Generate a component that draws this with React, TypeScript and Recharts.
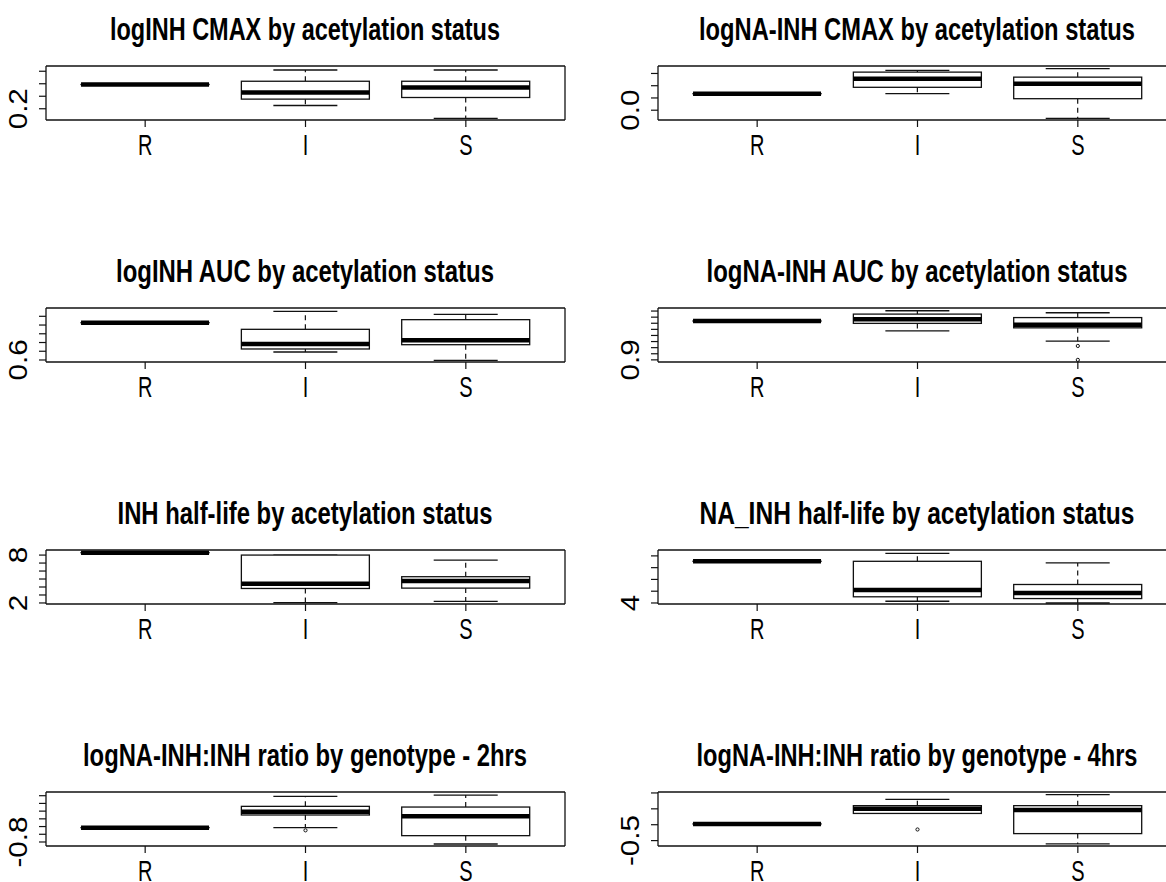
import React from "react";
import { ComposedChart, Bar, Scatter, XAxis, YAxis } from "recharts";

const groups = ["R", "I", "S"];

// five-number summaries per group (R, I, S): [min, q1, median, q3, max]
const inhCmax = [
  [0.394, 0.394, 0.394, 0.394, 0.394],
  [0.226, 0.277, 0.33, 0.42, 0.51],
  [0.123, 0.29, 0.37, 0.42, 0.51],
];
const naInhCmax = [
  [0.135, 0.135, 0.135, 0.135, 0.135],
  [0.135, 0.187, 0.256, 0.311, 0.325],
  [-0.066, 0.094, 0.217, 0.27, 0.339],
];
const inhAuc = [
  [0.6854, 0.6854, 0.6854, 0.6854, 0.6854],
  [0.6183, 0.6252, 0.6366, 0.6702, 0.7113],
  [0.5992, 0.635, 0.645, 0.6923, 0.7045],
];
const naInhAuc = [
  [0.9637, 0.9637, 0.9637, 0.9637, 0.9637],
  [0.9475, 0.9598, 0.9665, 0.975, 0.9805],
  [0.9307, 0.9525, 0.9576, 0.9693, 0.9772],
];
const inhHalfLife = [
  [8.3, 8.3, 8.3, 8.3, 8.3],
  [2.04, 3.815, 4.41, 8.0, 8.0],
  [2.21, 3.86, 4.75, 5.29, 7.367],
];
const naInhHalfLife = [
  [11.08, 11.08, 11.08, 11.08, 11.08],
  [4.29, 5.05, 6.21, 11.08, 12.42],
  [4.0, 4.75, 5.69, 7.14, 10.8],
];
const ratio2h = [
  [-0.614, -0.614, -0.614, -0.614, -0.614],
  [-0.614, -0.45, -0.407, -0.338, -0.208],
  [-0.826, -0.718, -0.467, -0.347, -0.192],
];
const ratio4h = [
  [-0.395, -0.395, -0.395, -0.395, -0.395],
  [-0.329, -0.329, -0.299, -0.28, -0.24],
  [-0.521, -0.456, -0.308, -0.28, -0.211],
];

// outlying points per group
const noOutliers = [[], [], []];
const naInhAucOut = [[], [], [0.9228, 0.9]];
const ratio2hOut = [[], [-0.649], []];
const ratio4hOut = [[], [-0.43], []];

// y axes: domain, tick values, labelled ticks
const domains = [
  [0.11, 0.542], [-0.08, 0.361],
  [0.5954, 0.719], [0.8965, 0.985],
  [1.87, 8.636], [3.826, 13.0],
  [-0.852, -0.152], [-0.534, -0.194],
];
const tickSets = [
  [0.2, 0.3, 0.4, 0.5], [0, 0.1, 0.2, 0.3],
  [0.6, 0.62, 0.64, 0.66, 0.68, 0.7], [0.9, 0.91, 0.92, 0.93, 0.94, 0.95, 0.96, 0.97, 0.98],
  [2, 3, 4, 5, 6, 7, 8], [4, 6, 8, 10, 12],
  [-0.8, -0.7, -0.6, -0.5, -0.4, -0.3, -0.2], [-0.5, -0.4, -0.3, -0.2],
];
const labelSets = [
  [[0.2, "0.2"]], [[0, "0.0"]],
  [[0.6, "0.6"]], [[0.9, "0.9"]],
  [[2, "2"], [8, "8"]], [[4, "4"]],
  [[-0.8, "-0.8"]], [[-0.5, "-0.5"]],
];

const titles = [
  "logINH CMAX by acetylation status",
  "logNA-INH CMAX by acetylation status",
  "logINH AUC by acetylation status",
  "logNA-INH AUC by acetylation status",
  "INH half-life by acetylation status",
  "NA_INH half-life by acetylation status",
  "logNA-INH:INH ratio by genotype - 2hrs",
  "logNA-INH:INH ratio by genotype - 4hrs",
];
const titleWidths = [390, 436, 378, 421, 375, 435, 444, 441];

const panelStats = [inhCmax, naInhCmax, inhAuc, naInhAuc, inhHalfLife, naInhHalfLife, ratio2h, ratio4h];
const panelOutliers = [noOutliers, noOutliers, noOutliers, naInhAucOut, noOutliers, noOutliers, ratio2hOut, ratio4hOut];

const FONT = '"Liberation Sans", Arial, sans-serif';
const INK = "#111";
const PAD = { left: 19, right: 19 };

function buildRows(stats: number[][], outs: number[][]) {
  return groups.map((g, i) => {
    const [mn, q1, md, q3, mx] = stats[i];
    return {
      cat: g,
      lowW: [mn, q1],
      upW: [q3, mx],
      box: [q1, q3],
      med: [md, md],
      o1: outs[i][0],
      o2: outs[i][1],
    };
  });
}

const span = (p: any) => {
  const { x, y, width, height } = p;
  if (![x, y, width, height].every((v) => Number.isFinite(v))) return null;
  const top = Math.min(y, y + height);
  const bot = Math.max(y, y + height);
  return { x, width, top, bot, cx: x + width / 2 };
};

const UpperWhisker = (p: any) => {
  const s = span(p);
  if (!s) return null;
  return (
    <g>
      <line x1={s.cx} x2={s.cx} y1={s.bot} y2={s.top} stroke={INK} strokeWidth={1.2} strokeDasharray="5 4" />
      <line x1={s.cx - s.width / 4} x2={s.cx + s.width / 4} y1={s.top} y2={s.top} stroke={INK} strokeWidth={1.3} />
    </g>
  );
};

const LowerWhisker = (p: any) => {
  const s = span(p);
  if (!s) return null;
  return (
    <g>
      <line x1={s.cx} x2={s.cx} y1={s.top} y2={s.bot} stroke={INK} strokeWidth={1.2} strokeDasharray="5 4" />
      <line x1={s.cx - s.width / 4} x2={s.cx + s.width / 4} y1={s.bot} y2={s.bot} stroke={INK} strokeWidth={1.3} />
    </g>
  );
};

const BoxShape = (p: any) => {
  const s = span(p);
  if (!s) return null;
  return (
    <rect x={s.x} y={s.top} width={s.width} height={Math.max(s.bot - s.top, 0.01)} fill="#fff" stroke={INK} strokeWidth={1.3} />
  );
};

const MedianShape = (p: any) => {
  const s = span(p);
  if (!s) return null;
  return <line x1={s.x} x2={s.x + s.width} y1={s.top} y2={s.top} stroke="#000" strokeWidth={4.5} />;
};

const OutlierShape = (p: any) => {
  const { cx, cy } = p;
  if (!Number.isFinite(cx) || !Number.isFinite(cy)) return null;
  return <circle cx={cx} cy={cy} r={1.6} fill="none" stroke={INK} strokeWidth={1} />;
};

const XTick = (p: any) => {
  const { x, y, payload } = p;
  return (
    <g transform={`translate(${x},${y + 26}) scale(1,1.45)`}>
      <text x={0} y={0} textAnchor="middle" fontFamily={FONT} fontSize={20} fill="#000">
        {payload.value}
      </text>
    </g>
  );
};

const makeYTick = (labels: any[]) => (p: any) => {
  const { x, y, payload } = p;
  const hit = labels.find((l) => Math.abs(l[0] - payload.value) < 1e-9);
  if (!hit) return null;
  return (
    <g transform={`translate(${x - 10},${y}) rotate(-90) scale(1.14,1)`}>
      <text x={0} y={0} textAnchor="middle" fontFamily={FONT} fontSize={26} fill="#000">
        {hit[1]}
      </text>
    </g>
  );
};

function Panel({ idx }: { idx: number }) {
  const row = Math.floor(idx / 2);
  const col = idx % 2;
  const plotTop = 66 + 242 * row;
  const left = col * 612;
  const rows = buildRows(panelStats[idx], panelOutliers[idx]);
  const domain = domains[idx];
  const YTick = makeYTick(labelSets[idx]);
  return (
    <>
      <svg
        width={580}
        height={60}
        style={{ position: "absolute", left, top: plotTop - 60 }}
      >
        <g transform="translate(305,34) scale(1,1.3)">
          <text
            x={0}
            y={0}
            textAnchor="middle"
            fontFamily={FONT}
            fontWeight="bold"
            fontSize={23.5}
            textLength={titleWidths[idx]}
            lengthAdjust="spacingAndGlyphs"
            fill="#000"
          >
            {titles[idx]}
          </text>
        </g>
      </svg>
      <div style={{ position: "absolute", left, top: plotTop - 10 }}>
        <ComposedChart
          width={580}
          height={104}
          data={rows}
          margin={{ top: 9, right: 14, bottom: 0, left: 0 }}
          barCategoryGap="10%"
          barGap={0}
        >
          <XAxis
            dataKey="cat"
            padding={PAD}
            height={40}
            interval={0}
            tickSize={7}
            tickLine={{ stroke: INK, strokeWidth: 1.2 }}
            axisLine={{ stroke: INK, strokeWidth: 1.3 }}
            tick={<XTick />}
          />
          <XAxis
            xAxisId="top"
            orientation="top"
            dataKey="cat"
            padding={PAD}
            height={1}
            tick={false}
            tickLine={false}
            axisLine={{ stroke: INK, strokeWidth: 1.3 }}
          />
          <XAxis xAxisId="lw" dataKey="cat" padding={PAD} hide />
          <XAxis xAxisId="md" dataKey="cat" padding={PAD} hide />
          <YAxis
            type="number"
            domain={domain}
            ticks={tickSets[idx]}
            interval={0}
            allowDataOverflow
            width={46}
            tickSize={7}
            tickLine={{ stroke: INK, strokeWidth: 1.2 }}
            axisLine={{ stroke: INK, strokeWidth: 1.3 }}
            tick={<YTick />}
          />
          <YAxis
            yAxisId="r"
            orientation="right"
            type="number"
            domain={domain}
            allowDataOverflow
            width={1}
            tick={false}
            tickLine={false}
            axisLine={{ stroke: INK, strokeWidth: 1.3 }}
          />
          <Bar dataKey="upW" shape={<UpperWhisker />} isAnimationActive={false} />
          <Bar xAxisId="lw" dataKey="lowW" shape={<LowerWhisker />} isAnimationActive={false} />
          <Bar xAxisId="top" dataKey="box" shape={<BoxShape />} isAnimationActive={false} />
          <Bar xAxisId="md" dataKey="med" shape={<MedianShape />} isAnimationActive={false} />
          <Scatter dataKey="o1" shape={<OutlierShape />} isAnimationActive={false} />
          <Scatter dataKey="o2" shape={<OutlierShape />} isAnimationActive={false} />
        </ComposedChart>
      </div>
    </>
  );
}

export default function App() {
  return (
    <div
      style={{
        position: "absolute",
        left: 0,
        top: 0,
        width: 1166,
        height: 882,
        overflow: "hidden",
        background: "#fff",
      }}
    >
      {titles.map((_, i) => (
        <Panel key={i} idx={i} />
      ))}
    </div>
  );
}
